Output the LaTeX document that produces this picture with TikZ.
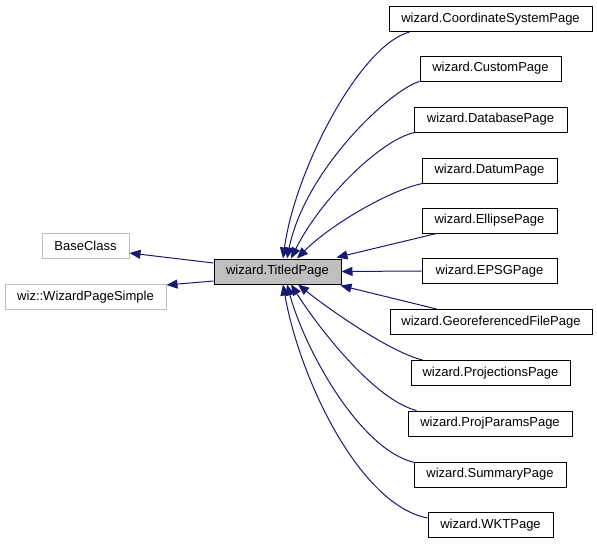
\documentclass[tikz,border=0pt]{standalone}
\usepackage{fontspec}
\setmainfont{Liberation Sans}
\usepackage{xcolor}
\usepackage{tikz}
\usetikzlibrary{arrows.meta,positioning}

\definecolor{edgeblue}{RGB}{25,25,112}
\definecolor{basegray}{RGB}{191,191,191}

\begin{document}
\begin{tikzpicture}[x=1pt,y=-1pt,
        cls/.style={draw,line width=1pt,inner sep=0pt,minimum height=25pt,font=\fontsize{13}{15}\selectfont},
        base/.style={cls,draw=basegray},
        inh/.style={->,>={Triangle[length=11pt,width=9pt]},draw=edgeblue,line width=1pt}]
        \useasboundingbox (0,0) rectangle (597,544);

        \node[cls,fill=basegray,minimum width=127pt] (T1) at (277.5,271.5) {wizard.TitledPage} ;

        \node[base,minimum width=87pt] (B1) at (85.5,246) {BaseClass} ;
        \node[base,minimum width=161pt] (B2) at (85.5,297) {wiz::WizardPageSimple} ;

        \node[cls,minimum width=203pt] (C1) at (490.5,19) {wizard.CoordinateSystemPage} ;
        \node[cls,minimum width=141pt] (C2) at (490.5,68.5) {wizard.CustomPage} ;
        \node[cls,minimum width=153pt] (C3) at (490.5,119.5) {wizard.DatabasePage} ;
        \node[cls,minimum width=135pt] (C4) at (489.5,170.5) {wizard.DatumPage} ;
        \node[cls,minimum width=135pt] (C5) at (489.5,220.5) {wizard.EllipsePage} ;
        \node[cls,minimum width=135pt] (C6) at (489.5,271) {wizard.EPSGPage} ;
        \node[cls,minimum width=202pt] (C7) at (491,322) {wizard.GeoreferencedFilePage} ;
        \node[cls,minimum width=159pt] (C8) at (490.5,373) {wizard.ProjectionsPage} ;
        \node[cls,minimum width=164pt] (C9) at (490,423.5) {wizard.ProjParamsPage} ;
        \node[cls,minimum width=152pt] (C10) at (490,474.5) {wizard.SummaryPage} ;
        \node[cls,minimum width=125pt] (C11) at (490.5,525) {wizard.WKTPage} ;

        \draw[inh] ([yshift=8.5pt]T1.west) -- ([yshift=-7pt]B1.east) ;
        \draw[inh] ([yshift=-9.5pt]T1.west) -- ([yshift=12pt]B2.east) ;

        \draw[inh] ([xshift=21pt]C1.south west) .. controls (360,45) and (295,170) .. ([xshift=5.5pt]T1.north) ;
        \draw[inh] (C2.south west) .. controls (390,90) and (305,170) .. ([xshift=9.5pt]T1.north) ;
        \draw[inh] ([xshift=1pt]C3.south west) .. controls (380,140) and (320,200) .. ([xshift=13.5pt]T1.north) ;
        \draw[inh] ([xshift=1pt]C4.south west) .. controls (390,190) and (330,225) .. ([xshift=19.5pt]T1.north) ;
        \draw[inh] ([xshift=15pt]C5.south west) -- ([xshift=-5pt,yshift=1pt]T1.north east) ;
        \draw[inh] (C6.west) -- (T1.east) ;
        \draw[inh] ([xshift=47pt]C7.north west) -- ([xshift=-1pt,yshift=-1pt]T1.south east) ;
        \draw[inh] ([xshift=12pt]C8.north west) .. controls (390,352) and (330,310) .. ([xshift=20.5pt]T1.south) ;
        \draw[inh] ([xshift=9pt]C9.north west) .. controls (375,400) and (320,330) .. ([xshift=13.5pt]T1.south) ;
        \draw[inh] ([xshift=1pt,yshift=-1pt]C10.north west) .. controls (360,450) and (305,350) .. ([xshift=9.5pt]T1.south) ;
        \draw[inh] ([yshift=-6pt]C11.north west) .. controls (360,505) and (300,380) .. ([xshift=5.5pt]T1.south) ;
    \end{tikzpicture}
\end{document}
